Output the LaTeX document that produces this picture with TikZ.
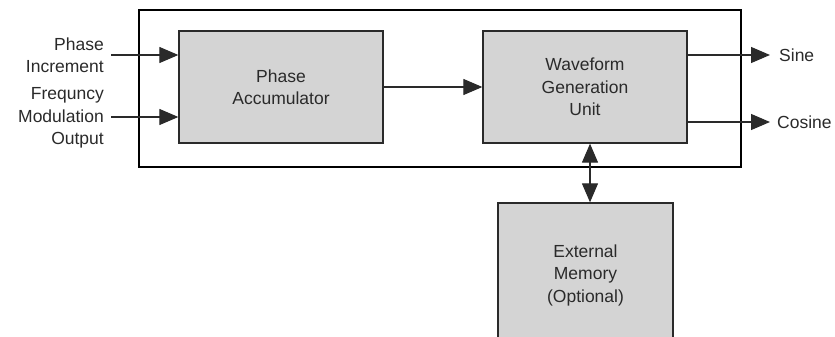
\documentclass[tikz,border=0pt]{standalone}
\usepackage{fontspec}
\setmainfont{Liberation Sans}
\usepackage{xcolor}
\usetikzlibrary{arrows.meta,positioning}
\definecolor{boxgray}{HTML}{D4D4D4}
\definecolor{linegray}{HTML}{666666}
\definecolor{textgray}{HTML}{2A2A2A}

\begin{document}
\begin{tikzpicture}[x=1pt,y=-1pt,
    font=\fontsize{17.5}{22.5}\selectfont,
    block/.style={draw=textgray,line width=1.3pt,fill=boxgray,text=textgray,align=center,minimum width=204,minimum height=112,inner sep=0pt},
    sig/.style={draw=linegray,line width=1.2pt,-{Triangle[length=19pt,width=16pt]},textgray},
    lbl/.style={text=textgray,align=right,inner sep=0pt}]
    \useasboundingbox (0,0) rectangle (835,337);
    \clip (0,0) rectangle (835,337);
    % Draw outer frame
    \node[draw=black,line width=1.3pt,minimum width=602,minimum height=157,inner sep=0pt] (core) at (440,88.5) {};
    % Draw blocks
    \node[block] (acc) at (281,87) {Phase\\Accumulator};
    \node[block] (wgu) at (585,87) {Waveform\\Generation\\Unit};
    \node[block,minimum width=175,minimum height=160] (mem) at (585.5,283) {};
    \node[text=textgray,align=center] (memtxt) at (585.5,275) {External\\Memory\\(Optional)};

    % Input labels
    \node[lbl,anchor=east] (pinc) at (104,55) {Phase\\Increment};
    \node[lbl,anchor=east] (fmod) at (104,118) {Frequncy\\Modulation\\Output};
    \coordinate (pincs) at (111,55);
    \coordinate (fmods) at (111,117);
    \draw[sig] (pincs) -- (acc.west |- pincs);
    \draw[sig] (fmods) -- (acc.west |- fmods);

    % Accumulator to waveform unit
    \draw[sig] (acc.east) -- (wgu.west);

    % Output labels
    \coordinate (sinee) at (770,55);
    \coordinate (cose) at (770,122);
    \node[lbl,anchor=west] (sine) at (779,55) {Sine};
    \node[lbl,anchor=west] (cosine) at (777,122) {Cosine};
    \draw[sig] (wgu.east |- sinee) -- (sinee);
    \draw[sig] (wgu.east |- cose) -- (cose);

    % Memory link
    \coordinate (link) at (590,143);
    \draw[sig,{Triangle[length=19pt,width=16pt]}-{Triangle[length=19pt,width=16pt]}] (wgu.south -| link) -- (mem.north -| link);
\end{tikzpicture}
\end{document}
